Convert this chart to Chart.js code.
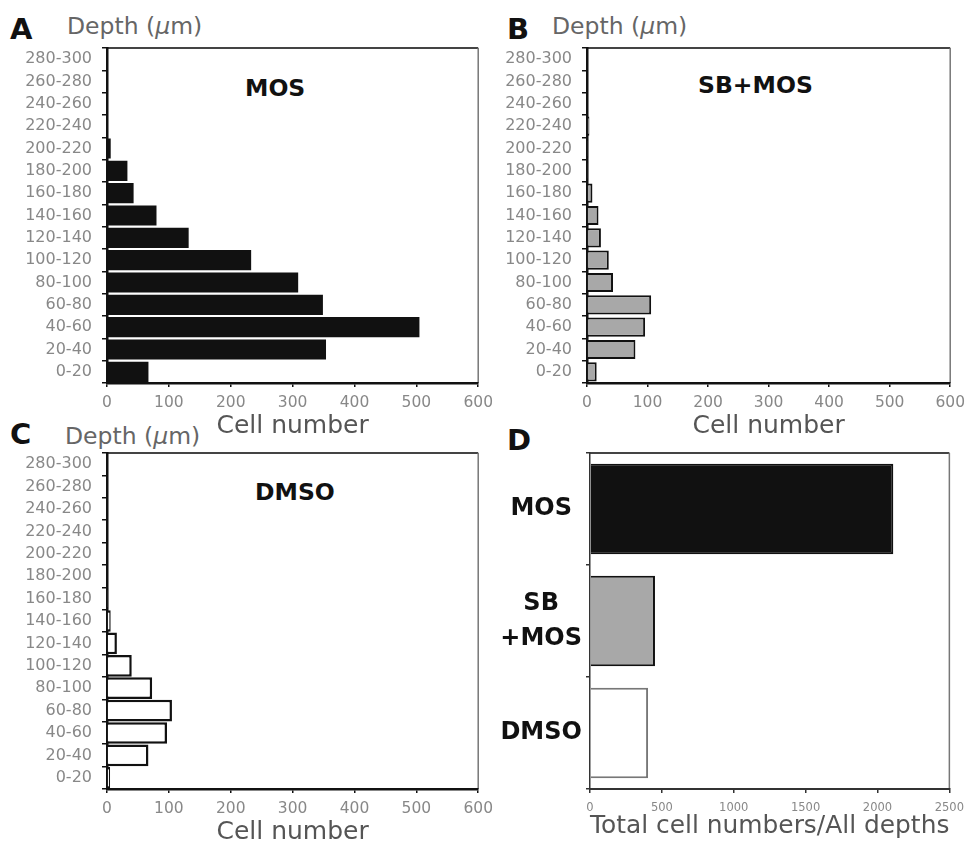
<!DOCTYPE html>
<html><head><meta charset="utf-8">
<script src="https://cdn.jsdelivr.net/npm/chart.js@4.4.1/dist/chart.umd.min.js"></script>
<style>
html,body{margin:0;padding:0;background:#fff;overflow:hidden;width:972px;height:845px}
body{position:relative;font-family:"DejaVu Sans",sans-serif}
canvas{position:absolute}
.lbl{position:absolute;white-space:nowrap;line-height:1}
.letter{font-weight:bold;font-size:29px;color:#111}
.depth{font-size:23.5px;color:#666}
.cond{font-weight:bold;font-size:23.5px;color:#111}
</style></head><body>
<div class="lbl letter" style="left:10px;top:15px">A</div>
<div class="lbl letter" style="left:507px;top:15px">B</div>
<div class="lbl letter" style="left:10px;top:420px">C</div>
<div class="lbl letter" style="left:507px;top:426px">D</div>
<div class="lbl depth" style="left:67px;top:15px">Depth (<i>μ</i>m)</div>
<div class="lbl depth" style="left:552px;top:15px">Depth (<i>μ</i>m)</div>
<div class="lbl depth" style="left:65px;top:425px">Depth (<i>μ</i>m)</div>
<div class="lbl cond" style="left:245px;top:77px">MOS</div>
<div class="lbl cond" style="left:698px;top:74px">SB+MOS</div>
<div class="lbl cond" style="left:255px;top:481px">DMSO</div>

<canvas id="cA" width="500" height="445" style="left:0;top:0"></canvas>
<canvas id="cB" width="492" height="445" style="left:480px;top:0"></canvas>
<canvas id="cC" width="500" height="430" style="left:0;top:415px"></canvas>
<canvas id="cD" width="492" height="430" style="left:480px;top:415px"></canvas>

<script>
// ---- data ----
const depthLabels = ['0-20','20-40','40-60','60-80','80-100','100-120','120-140','140-160','160-180','180-200','200-220','220-240','240-260','260-280','280-300'];
const mosCounts   = [67, 354, 505, 349, 309, 233, 132, 80, 43, 33, 6, 0, 0, 0, 0];
const sbMosCounts = [16, 80, 96, 106, 43, 36, 23, 19, 9, 2, 2, 4, 1, 0, 0];
const dmsoCounts  = [5, 67, 97, 105, 73, 40, 16, 6, 2, 1, 1, 1, 0, 0, 0];
const totalLabels = ['MOS', ['SB','+MOS'], 'DMSO'];
const totalCounts = [2110, 452, 404];

const FONT = '"DejaVu Sans", sans-serif';

const boxPlugin = {
  id: 'box',
  beforeDraw(chart) {
    const {ctx, chartArea: a} = chart;
    ctx.save();
    ctx.strokeStyle = '#444'; ctx.lineWidth = 2;
    ctx.beginPath(); ctx.moveTo(a.left, a.top); ctx.lineTo(a.right, a.top); ctx.stroke();
    ctx.strokeStyle = '#777'; ctx.lineWidth = 1.5;
    ctx.beginPath(); ctx.moveTo(a.right, a.top); ctx.lineTo(a.right, a.bottom); ctx.stroke();
    ctx.restore();
  }
};

function depthChart(id, values, ds, pad) {
  return new Chart(document.getElementById(id), {
    type: 'bar',
    data: { labels: depthLabels, datasets: [Object.assign({ data: values, categoryPercentage: 1 }, ds)] },
    plugins: [boxPlugin],
    options: {
      indexAxis: 'y', responsive: false, animation: false, devicePixelRatio: 1,
      layout: { padding: pad },
      plugins: { legend: { display: false }, tooltip: { enabled: false } },
      scales: {
        y: {
          reverse: true, offset: true,
          grid: { offset: true, drawOnChartArea: false, drawTicks: true, tickLength: 5, color: '#111', lineWidth: 1.5 },
          border: { display: true, color: '#111', width: 2.5 },
          ticks: { autoSkip: false, font: { family: FONT, size: 16 }, color: '#888', padding: 10 },
          afterFit(s) { s.width = 107; }
        },
        x: {
          min: 0, max: 600,
          grid: { drawOnChartArea: false, drawTicks: true, tickLength: 4, color: '#111', lineWidth: 1.5 },
          border: { display: true, color: '#111', width: 2.5 },
          ticks: { stepSize: 100, font: { family: FONT, size: 15.5 }, color: '#888', padding: 7 },
          title: { display: true, text: 'Cell number', font: { family: FONT, size: 25, lineHeight: 1 }, color: '#555', padding: 0 },
          afterFit(s) { s.height = 56; }
        }
      }
    }
  });
}

depthChart('cA', mosCounts, { backgroundColor: '#111', borderWidth: 0, barPercentage: 0.9 },
  { left: 0, top: 48, right: 20, bottom: 6 });
depthChart('cB', sbMosCounts, { backgroundColor: '#a8a8a8', borderColor: '#111', borderWidth: 2, barPercentage: 0.86 },
  { left: 0, top: 48, right: 17, bottom: 6 });
depthChart('cC', dmsoCounts, { backgroundColor: '#fff', borderColor: '#111', borderWidth: 2.5, barPercentage: 0.97 },
  { left: 0, top: 38, right: 20, bottom: 0 });

new Chart(document.getElementById('cD'), {
  type: 'bar',
  data: { labels: totalLabels, datasets: [{
    data: totalCounts,
    backgroundColor: ['#111', '#a8a8a8', '#fff'],
    borderColor: ['#111', '#111', '#777'],
    borderWidth: 2, barPercentage: 0.81, categoryPercentage: 1
  }] },
  plugins: [boxPlugin],
  options: {
    indexAxis: 'y', responsive: false, animation: false, devicePixelRatio: 1,
    layout: { padding: { left: 0, top: 38, right: 17, bottom: 6 } },
    plugins: { legend: { display: false }, tooltip: { enabled: false } },
    scales: {
      y: {
        offset: true,
        grid: { offset: true, drawOnChartArea: false, drawTicks: true, tickLength: 4, color: '#333', lineWidth: 1.5 },
        border: { display: true, color: '#333', width: 1.5 },
        ticks: { autoSkip: false, crossAlign: 'center', font: { family: FONT, size: 24, weight: 'bold', lineHeight: 1.45 }, color: '#111', padding: 4 },
        afterFit(s) { s.width = 110; }
      },
      x: {
        min: 0, max: 2500,
        grid: { drawOnChartArea: false, drawTicks: true, tickLength: 4, color: '#333', lineWidth: 1.5 },
        border: { display: true, color: '#333', width: 2 },
        ticks: { stepSize: 500, font: { family: FONT, size: 11.5 }, color: '#888', padding: 8, callback: v => String(v) },
        title: { display: true, text: 'Total cell numbers/All depths', font: { family: FONT, size: 25, lineHeight: 1 }, color: '#555', padding: 0 },
        afterFit(s) { s.height = 50; }
      }
    }
  }
});
</script>
</body></html>
